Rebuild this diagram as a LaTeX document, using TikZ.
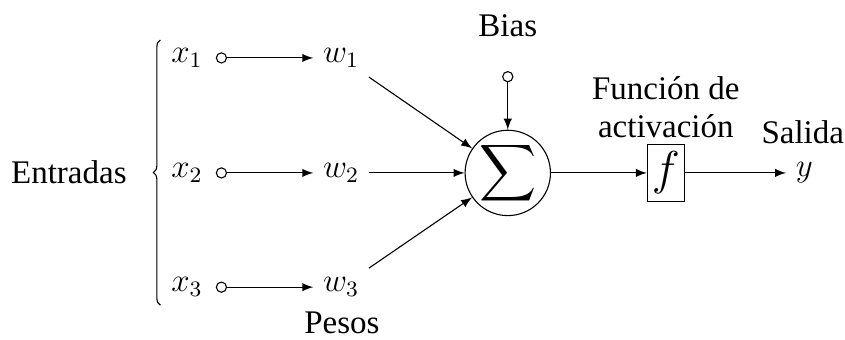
\documentclass[tikz,border=0pt]{standalone}
\usepackage{amsmath}
\usepackage[no-math]{fontspec}
\setmainfont{Liberation Serif}
\usetikzlibrary{decorations.pathreplacing}
\begin{document}
\begin{tikzpicture}[
    font=\large,
    every node/.style={align=center},
    inp/.style={circle, draw, inner sep=0pt, minimum size=0.13cm},
    arr/.style={-latex}
]
\useasboundingbox (0,0) rectangle (10.8,-4.345);
\node (ent) at (0.88,-2.20) {Entradas};
\node[circle, draw, minimum size=1.0cm, inner sep=0pt] (sum) at (6.49,-2.21) {\Large$\displaystyle\sum$};

\foreach \i/\y in {1/-0.74,2/-2.21,3/-3.67} {
  \node (x\i) at (2.39,\y) {$x_\i$};
  \node[inp] (c\i) at (2.83,\y) {};
  \node (w\i) at (4.36,\y) {$w_\i$};
  \draw[arr] (c\i) -- (w\i);
  \draw[arr] (w\i) -- (sum);
}

\coordinate (bb) at (2.05,-3.90);
\coordinate (bt) at (2.05,-0.51);
\draw[decorate, decoration={brace, amplitude=0.09cm}] (bb) -- (bt);
\node (pesos) at (4.37,-4.12) {Pesos};

\node (bias) at (6.49,-0.33) {Bias};
\node[inp] (cb) at (6.49,-0.98) {};
\draw[arr] (cb) -- (sum);

\node (fun) at (8.51,-1.37) {Función de\\activación};
\node[draw, minimum width=0.47cm, minimum height=0.72cm, inner sep=1pt] (act) at (8.51,-2.21) {\LARGE$f$};
\node (yout) at (10.28,-2.21) {$y$};
\node (sal) at (10.26,-1.69) {Salida};
\draw[arr] (sum) -- (act);
\draw[arr] (act) -- (yout);
\end{tikzpicture}
\end{document}
